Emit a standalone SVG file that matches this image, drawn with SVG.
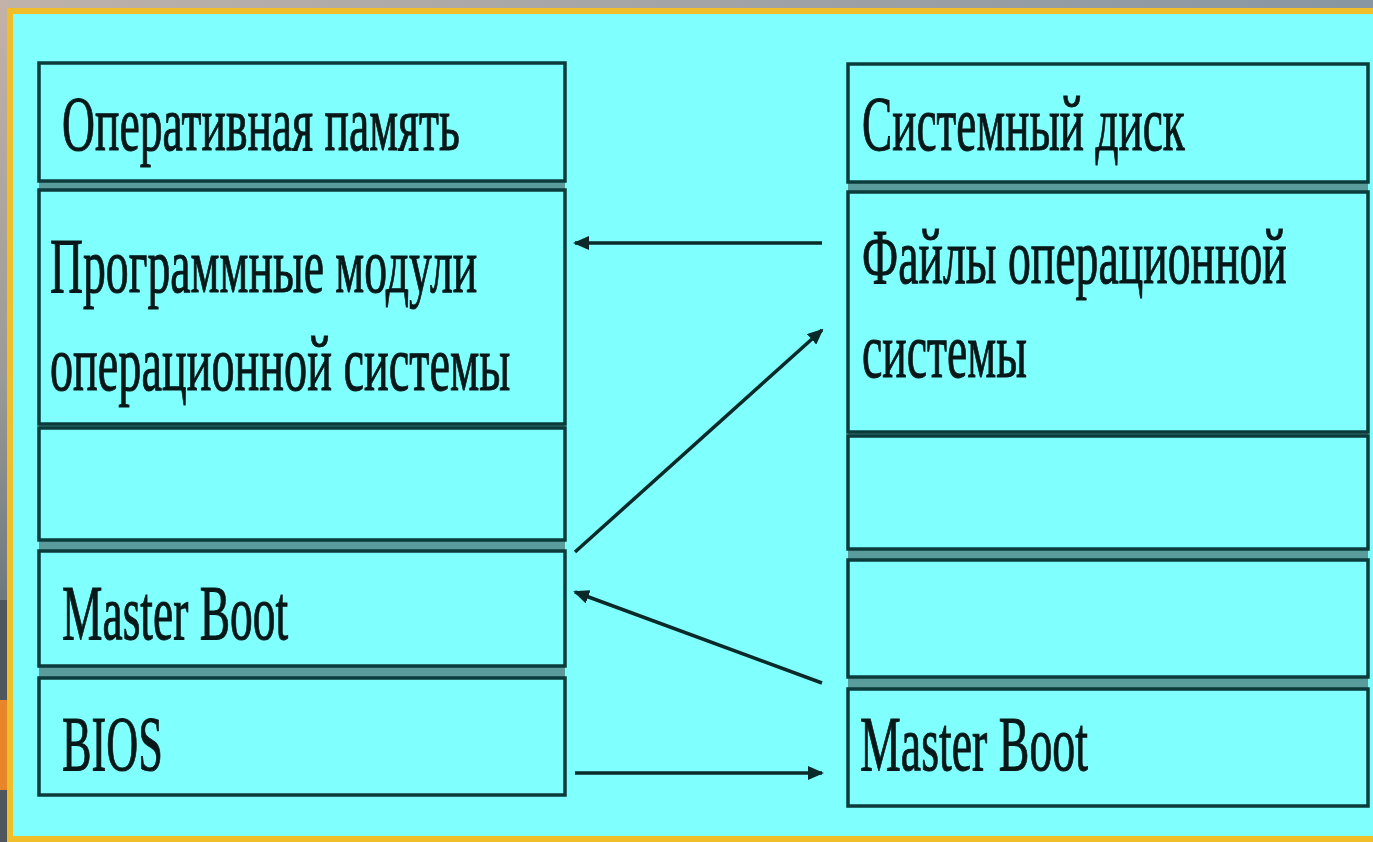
<svg xmlns="http://www.w3.org/2000/svg" width="1373" height="842" viewBox="0 0 1373 842">
<defs>
<linearGradient id="topg" x1="0" y1="0" x2="1" y2="0">
<stop offset="0" stop-color="#bfb2aa"/>
<stop offset="1" stop-color="#8796a2"/>
</linearGradient>
<linearGradient id="leftg" x1="0" y1="0" x2="0" y2="1">
<stop offset="0" stop-color="#c4b2a8"/>
<stop offset="0.45" stop-color="#9a9a98"/>
<stop offset="0.7" stop-color="#6f7a80"/>
<stop offset="1" stop-color="#505a62"/>
</linearGradient>
<marker id="ah" markerWidth="16" markerHeight="14" refX="14" refY="7" orient="auto" markerUnits="userSpaceOnUse">
<path d="M0,0 L16,7 L0,14 Z" fill="#0a2a2a"/>
</marker>
<style>
.box{fill:#80ffff;stroke:#0b3b3b;stroke-width:3.5}
.gap{fill:#5a9c9c}
.t{font-family:"Liberation Serif","Times New Roman",serif;font-size:78px;fill:#081818;stroke:#081818;stroke-width:1}
.c{stroke:#0a2a2a;stroke-width:3.5;fill:none;marker-end:url(#ah)}
</style>
</defs>
<rect x="0" y="0" width="1373" height="842" fill="url(#topg)"/>
<rect x="0" y="0" width="8" height="842" fill="url(#leftg)"/>
<rect x="0" y="600" width="8" height="100" fill="#4e565e"/>
<rect x="0" y="700" width="8" height="90" fill="#e8842a"/>
<rect x="0" y="790" width="8" height="52" fill="#4e565e"/>
<rect x="7" y="8" width="1366" height="834" fill="#f0be28"/>
<rect x="13" y="14" width="1360" height="822" fill="#80ffff"/>
<g id="gaps">
<rect class="gap" x="39" y="181" width="526" height="9"/>
<rect class="gap" x="39" y="424" width="526" height="4"/>
<rect class="gap" x="39" y="540" width="526" height="11"/>
<rect class="gap" x="39" y="666" width="526" height="12"/>
<rect class="gap" x="848" y="182" width="520" height="10"/>
<rect class="gap" x="848" y="432" width="520" height="4"/>
<rect class="gap" x="848" y="549" width="520" height="11"/>
<rect class="gap" x="848" y="677" width="520" height="12"/>
</g>
<g id="ram">
<rect class="box" x="39" y="63" width="526" height="118"/>
<text class="t" transform="translate(62,150) scale(0.6,1)" textLength="663" lengthAdjust="spacingAndGlyphs">Оперативная память</text>
</g>
<g id="os-modules">
<rect class="box" x="39" y="190" width="526" height="234"/>
<text class="t" transform="translate(50,292) scale(0.6,1)" textLength="712" lengthAdjust="spacingAndGlyphs">Программные модули</text>
<text class="t" transform="translate(50,390) scale(0.6,1)" textLength="767" lengthAdjust="spacingAndGlyphs">операционной системы</text>
</g>
<g id="ram-empty">
<rect class="box" x="39" y="428" width="526" height="112"/>
</g>
<g id="ram-master-boot">
<rect class="box" x="39" y="551" width="526" height="115"/>
<text class="t" transform="translate(62,639) scale(0.6,1)" textLength="377" lengthAdjust="spacingAndGlyphs">Master Boot</text>
</g>
<g id="bios">
<rect class="box" x="39" y="678" width="526" height="117"/>
<text class="t" transform="translate(62,770) scale(0.6,1)" textLength="168" lengthAdjust="spacingAndGlyphs">BIOS</text>
</g>
<g id="disk">
<rect class="box" x="848" y="64" width="520" height="118"/>
<text class="t" transform="translate(862,150) scale(0.6,1)" textLength="538" lengthAdjust="spacingAndGlyphs">Системный диск</text>
</g>
<g id="os-files">
<rect class="box" x="848" y="192" width="520" height="240"/>
<text class="t" transform="translate(862,283) scale(0.6,1)" textLength="708" lengthAdjust="spacingAndGlyphs">Файлы операционной</text>
<text class="t" transform="translate(862,377) scale(0.6,1)" textLength="275" lengthAdjust="spacingAndGlyphs">системы</text>
</g>
<g id="disk-empty-1">
<rect class="box" x="848" y="436" width="520" height="113"/>
</g>
<g id="disk-empty-2">
<rect class="box" x="848" y="560" width="520" height="117"/>
</g>
<g id="disk-master-boot">
<rect class="box" x="848" y="689" width="520" height="117"/>
<text class="t" transform="translate(860,770) scale(0.6,1)" textLength="380" lengthAdjust="spacingAndGlyphs">Master Boot</text>
</g>
<g id="connectors">
<line class="c" x1="822" y1="243" x2="575" y2="243"/>
<line class="c" x1="575" y1="552" x2="822" y2="330"/>
<line class="c" x1="822" y1="683" x2="575" y2="592"/>
<line class="c" x1="575" y1="773" x2="822" y2="773"/>
</g>
</svg>
